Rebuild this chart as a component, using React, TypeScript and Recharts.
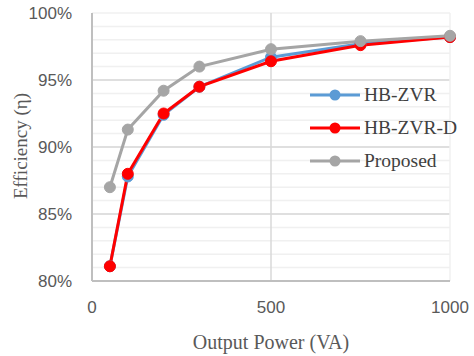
import { LineChart, Line, XAxis, YAxis, CartesianGrid, ReferenceLine, Label } from "recharts"

const power = [50, 100, 200, 300, 500, 750, 1000]
const hbZvr = [81.1, 87.8, 92.4, 94.5, 96.7, 97.7, 98.2]
const hbZvrD = [81.1, 88.0, 92.5, 94.5, 96.4, 97.6, 98.2]
const proposed = [87.0, 91.3, 94.2, 96.0, 97.3, 97.9, 98.3]

const yTicks = [80, 81, 82, 83, 84, 85, 86, 87, 88, 89, 90, 91, 92, 93, 94, 95, 96, 97, 98, 99, 100]
const majorY = [85, 90, 95]
const xTicks = [0, 500, 1000]

const data = power.map((p, i) => ({
    power: p,
    hbZvr: hbZvr[i],
    hbZvrD: hbZvrD[i],
    proposed: proposed[i],
}))

const series = [
    { key: "hbZvr", name: "HB-ZVR", color: "#5B9BD5" },
    { key: "hbZvrD", name: "HB-ZVR-D", color: "#FF0000" },
    { key: "proposed", name: "Proposed", color: "#A5A5A5" },
]

const tickStyle = { fill: "#595959", fontSize: 17, fontFamily: "Liberation Sans, sans-serif" }
const serif = "Liberation Serif, Times New Roman, serif"

// legend drawn as an overlay so it doesn't steal height from the plot
function LegendBox() {
    return (
        <div style={{ position: "absolute", left: 310, top: 84, display: "flex", flexDirection: "column", gap: 11 }}>
            {series.map((s) => (
                <div key={s.key} style={{ display: "flex", alignItems: "center", height: 22 }}>
                    <svg width={50} height={14} style={{ marginRight: 4 }}>
                        <line x1={0} y1={7} x2={50} y2={7} stroke={s.color} strokeWidth={3} />
                        <circle cx={25} cy={7} r={5.5} fill={s.color} />
                    </svg>
                    <span style={{ fontFamily: serif, fontSize: 19.5, color: "#404040" }}>{s.name}</span>
                </div>
            ))}
        </div>
    )
}

export default function App() {
    return (
        <div style={{ position: "fixed", left: 0, top: 0, width: 474, height: 356, background: "#fff" }}>
            <LineChart width={474} height={356} data={data} margin={{ top: 13, right: 24, left: 0, bottom: 0 }}>
                <CartesianGrid stroke="#f0f0f0" strokeWidth={1.5} vertical={false} />
                {majorY.map((v) => (
                    <ReferenceLine key={v} y={v} stroke="#d9d9d9" strokeWidth={1.5} />
                ))}
                <ReferenceLine x={500} stroke="#d9d9d9" strokeWidth={1.5} />
                <ReferenceLine x={1000} stroke="#f0f0f0" strokeWidth={1.5} />
                <XAxis
                    dataKey="power"
                    type="number"
                    domain={[0, 1000]}
                    ticks={xTicks}
                    height={75}
                    tickLine={false}
                    tickSize={0}
                    tickMargin={20}
                    stroke="#bfbfbf"
                    strokeWidth={2}
                    tick={tickStyle}
                >
                    <Label
                        value="Output Power (VA)"
                        position="insideBottom"
                        offset={7}
                        style={{ fontFamily: serif, fontSize: 20, fill: "#595959" }}
                    />
                </XAxis>
                <YAxis
                    type="number"
                    domain={[80, 100]}
                    ticks={yTicks}
                    interval={0}
                    width={92}
                    tickLine={false}
                    tickSize={0}
                    tickMargin={20}
                    stroke="#bfbfbf"
                    strokeWidth={2}
                    tick={tickStyle}
                    tickFormatter={(v) => (v % 5 === 0 ? `${v}%` : "")}
                >
                    <Label
                        content={() => (
                            <text
                                x={20}
                                y={146}
                                transform="rotate(-90 20 146)"
                                textAnchor="middle"
                                dominantBaseline="central"
                                style={{ fontFamily: serif, fontSize: 19, fill: "#595959" }}
                            >
                                Efficiency (η)
                            </text>
                        )}
                    />
                </YAxis>
                {series.map((s) => (
                    <Line
                        key={s.key}
                        dataKey={s.key}
                        name={s.name}
                        stroke={s.color}
                        strokeWidth={3}
                        dot={{ r: 5.5, fill: s.color, stroke: s.color, strokeWidth: 1 }}
                        isAnimationActive={false}
                    />
                ))}
            </LineChart>
            <LegendBox />
        </div>
    )
}
